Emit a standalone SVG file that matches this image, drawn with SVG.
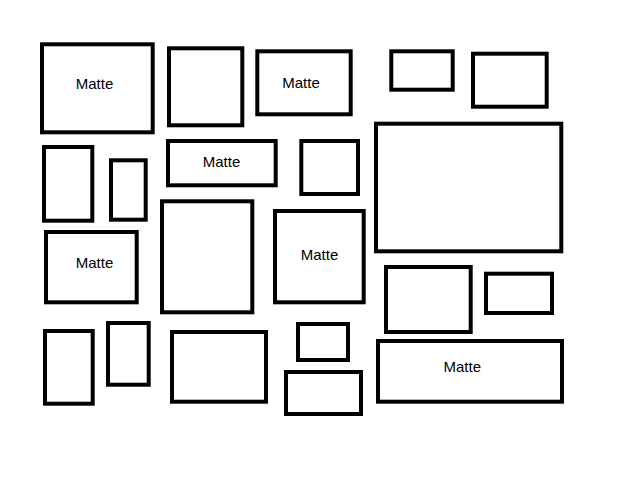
<svg xmlns="http://www.w3.org/2000/svg" width="640" height="480" viewBox="0 0 640 480">
<style>
.f{fill:#fff;stroke:#000;stroke-width:4}
.t{font-family:"Liberation Sans",Arial,sans-serif;font-size:15px;fill:#000;text-anchor:middle}
</style>
<rect width="640" height="480" fill="#fff"/>
<g id="n1"><rect class="f" x="42" y="44.3" width="110.7" height="88"/><text class="t" x="94.5" y="89.3">Matte</text></g>
<g id="n2"><rect class="f" x="169" y="48.3" width="73.3" height="77"/></g>
<g id="n3"><rect class="f" x="257.3" y="51.3" width="93.4" height="63"/><text class="t" x="301" y="88.3">Matte</text></g>
<g id="n4"><rect class="f" x="391.3" y="51.3" width="61.4" height="38.4"/></g>
<g id="n5"><rect class="f" x="473" y="53.7" width="73.7" height="53"/></g>
<g id="n6"><rect class="f" x="44" y="147" width="48.3" height="73.7"/></g>
<g id="n7"><rect class="f" x="111" y="160.3" width="34.7" height="59.4"/></g>
<g id="n8"><rect class="f" x="168" y="141" width="107.7" height="44.3"/><text class="t" x="221.5" y="166.7">Matte</text></g>
<g id="n9"><rect class="f" x="301.3" y="141" width="56.7" height="53"/></g>
<g id="n10"><rect class="f" x="376" y="123.7" width="185.3" height="127.6"/></g>
<g id="n11"><rect class="f" x="46" y="232" width="90.7" height="70.3"/><text class="t" x="94.5" y="267.7">Matte</text></g>
<g id="n12"><rect class="f" x="162" y="201.3" width="90.3" height="111"/></g>
<g id="n13"><rect class="f" x="275" y="211" width="88.7" height="91.3"/><text class="t" x="319.5" y="260">Matte</text></g>
<g id="n14"><rect class="f" x="386" y="267" width="84.7" height="65"/></g>
<g id="n15"><rect class="f" x="486" y="273.7" width="66" height="39.3"/></g>
<g id="n16"><rect class="f" x="45" y="331" width="47.7" height="72.7"/></g>
<g id="n17"><rect class="f" x="108" y="323" width="40.7" height="61.7"/></g>
<g id="n18"><rect class="f" x="172" y="332" width="94" height="69.7"/></g>
<g id="n19"><rect class="f" x="298" y="324" width="50" height="36"/></g>
<g id="n20"><rect class="f" x="286" y="372" width="75" height="42"/></g>
<g id="n21"><rect class="f" x="378" y="341" width="184" height="60.7"/><text class="t" x="462.3" y="371.7">Matte</text></g>
<g id="connectors"></g>
</svg>
